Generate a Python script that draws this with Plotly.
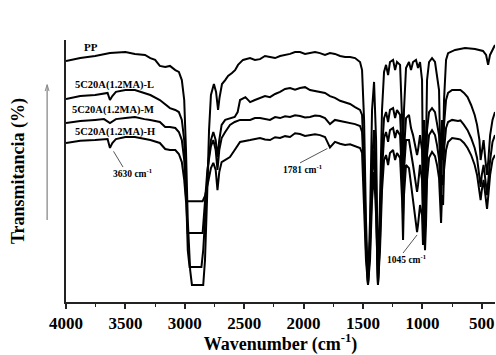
import plotly.graph_objects as go

# ---- FTIR spectra: wavenumber (cm-1) vs. transmittance (a.u., offset traces) ----

# PP (neat polypropylene)
wn_pp = [4000, 3880, 3755, 3630, 3500, 3420, 3335, 3290, 3250, 3210, 3165, 3125, 3080, 3050,
         3025, 3005, 2990, 2975, 2955, 2940, 2845, 2830, 2813, 2796, 2780, 2755, 2737, 2720,
         2708, 2687, 2660, 2636, 2603, 2577, 2552, 2510,
         2451, 2410, 2367, 2325, 2283, 2240, 2198, 2156, 2114, 2072, 2030, 1988, 1946, 1904,
         1862, 1820, 1778, 1736, 1693, 1651, 1609, 1567,
         1525, 1508, 1491, 1475, 1458, 1441, 1424, 1407, 1390,
         1382, 1374, 1357, 1340, 1323, 1306, 1289, 1273, 1247, 1230, 1214, 1188, 1171, 1163,
         1155, 1138, 1113, 1096, 1079, 1054, 1037, 1020, 1003, 995, 986, 978, 970, 961, 944,
         919, 894, 877, 860, 843, 835, 826, 818, 801, 784, 725, 641, 557, 490, 464, 447, 431,
         406, 389]
t_pp = [92.0, 93.1, 93.9, 95.0, 95.4, 94.7, 94.3, 93.1, 92.4, 90.1, 89.7, 90.1, 88.5, 87.8,
        84.7, 77.1, 58.0, 31.3, 12.2, 6.5, 6.5, 16.0, 38.9, 65.6, 79.0, 83.2, 80.2, 73.3,
        77.9, 83.2, 84.7, 86.3, 87.4, 88.5, 90.5, 92.4,
        93.1, 92.4, 92.7, 93.9, 93.5, 93.1, 93.9, 94.3, 94.7, 95.4, 95.4, 94.7, 95.0, 95.4,
        95.0, 94.3, 95.0, 94.7, 93.9, 93.5, 93.5, 93.1,
        91.6, 88.5, 69.5, 31.3, 6.5, 31.3, 73.3, 84.0, 61.8,
        23.7, 6.5, 38.9, 73.3, 87.8, 90.5, 86.6, 91.6, 92.4, 88.5, 91.6, 90.5, 69.5, 54.2,
        73.3, 89.3, 91.6, 88.5, 91.6, 92.4, 89.3, 91.6, 84.7, 46.6, 69.5, 38.9, 58.0, 84.7, 91.6,
        93.1, 91.6, 86.6, 80.9, 38.9, 69.5, 58.0, 77.1, 92.4, 95.0, 96.2, 96.9, 96.6, 95.8, 94.3, 90.5, 94.3,
        96.9, 98.1]

# mid-range wavenumbers (2450-1567) shared by the nanocomposite spectra
wn_mid = [2450, 2410, 2367, 2325, 2283, 2240, 2198, 2156, 2114, 2072, 2030, 1988, 1946, 1904,
          1862, 1820, 1778, 1736, 1693, 1651, 1609, 1567]

# fingerprint-region wavenumbers shared by the nanocomposite spectra
wn_fp = [1525, 1508, 1491, 1475, 1458, 1441, 1424, 1407, 1390, 1382, 1374, 1357, 1340, 1323,
         1306, 1289, 1273, 1247, 1230, 1214, 1188, 1171, 1163, 1155, 1138, 1113, 1096, 1079,
         1054, 1045, 1037, 1020, 1003, 995, 986, 978, 970, 961, 944, 919, 894, 877, 860, 843,
         835, 826, 818, 801, 784, 750, 700, 680, 650, 620, 590, 560, 540, 520, 510, 500, 485,
         470, 456, 445, 430, 410, 389]

# 5C20A(1.2MA)-L
wn_l_hi = [4000, 3880, 3755, 3680, 3650, 3630, 3610, 3580, 3500, 3420, 3340, 3290, 3210, 3165,
           3125, 3080, 3050, 3025, 3005, 2990, 2975, 2960, 2860, 2845, 2820, 2800, 2780, 2760,
           2740, 2725, 2710, 2690, 2660, 2620, 2580, 2555, 2535, 2490]
t_l_hi = [77.5, 78.6, 79.0, 79.4, 79.8, 77.1, 78.6, 80.2, 80.9, 80.9, 79.8, 79.0, 77.1, 75.6,
          74.0, 73.3, 72.5, 69.5, 61.8, 42.7, 19.8, 13.4, 13.4, 19.8, 38.9, 54.2, 61.8, 64.9,
          61.8, 55.3, 61.8, 67.6, 69.5, 70.2, 70.6, 72.5, 77.1, 78.2]
t_l_mid = [76.3, 77.1, 77.9, 78.6, 78.2, 79.4, 80.2, 81.3, 81.7, 81.0, 81.7, 82.0, 80.9, 80.5,
           80.2, 79.8, 78.6, 77.9, 76.8, 76.3, 75.6, 74.4]
t_l_fp = [73.3, 71.4,
          54.2, 23.7, 7.3, 23.7, 54.2, 65.6, 46.6, 19.8, 7.3, 27.5, 58.0, 70.2, 72.5, 68.7,
          73.3, 74.0, 70.2, 73.3, 71.4, 54.2, 42.7, 58.0, 70.2, 71.4, 66.4, 63.7, 58.0, 56.1,
          58.0, 63.7, 58.0, 37.0, 50.4, 35.1, 46.6, 65.6, 72.5, 74.0, 72.5, 68.7, 63.7, 46.6,
          58.0, 54.2, 67.6, 77.1, 79.8, 80.9, 80.9, 80.9, 79.8, 78.2, 75.2, 71.4, 67.6, 61.8,
          54.2, 58.0, 61.8, 54.2, 48.5, 54.2, 63.7, 69.5, 72.5]

# 5C20A(1.2MA)-M
wn_m_hi = [4000, 3880, 3755, 3680, 3630, 3580, 3500, 3420, 3340, 3290, 3210, 3165, 3125, 3080,
           3050, 3025, 3005, 2990, 2975, 2850, 2830, 2810, 2780, 2760, 2740, 2725, 2710, 2690,
           2660, 2620, 2580, 2535]
t_m_hi = [68.3, 69.1, 69.5, 69.8, 68.3, 69.8, 70.2, 70.6, 69.8, 69.5, 68.7, 66.8, 66.8, 66.4,
          64.9, 61.8, 54.2, 38.9, 26.3, 26.3, 38.9, 50.4, 59.5, 61.8, 58.0, 50.4, 58.0, 62.6,
          64.9, 67.6, 68.7, 69.5]
t_m_mid = [69.5, 70.2, 70.2, 69.8, 69.5, 70.6, 70.2, 70.9, 70.6, 71.3, 71.0, 70.4, 70.6, 71.2,
           71.0, 70.2, 67.9, 69.5, 69.1, 68.7, 68.3, 67.9]
t_m_fp = [67.2, 64.9,
          46.6, 19.8, 6.9, 19.8, 46.6, 58.0, 38.9, 16.0, 6.9, 23.7, 50.4, 62.6, 64.9, 61.1,
          65.6, 66.4, 62.6, 65.6, 63.7, 46.6, 33.2, 50.4, 61.8, 61.8, 56.1, 52.3, 44.7, 42.0,
          44.7, 52.3, 46.6, 29.4, 40.8, 27.5, 38.9, 56.1, 63.7, 65.6, 63.7, 59.9, 54.6, 38.9,
          48.5, 44.7, 58.0, 66.4, 68.7, 69.5, 69.1, 69.3, 67.6, 65.6, 62.6, 58.8, 55.0, 48.5,
          43.9, 48.5, 52.3, 46.6, 40.8, 46.6, 54.2, 61.1, 63.7]

# 5C20A(1.2MA)-H
wn_h_hi = [4000, 3880, 3755, 3680, 3650, 3630, 3610, 3580, 3500, 3420, 3340, 3290, 3210, 3165,
           3125, 3080, 3050, 3025, 3005, 2990, 2850, 2830, 2800, 2780, 2760, 2740, 2725, 2710,
           2690, 2660, 2620, 2580, 2535]
t_h_hi = [60.7, 61.5, 61.8, 62.2, 62.2, 58.8, 60.7, 62.2, 63.0, 63.0, 62.2, 61.8, 60.7, 58.4,
          58.0, 58.0, 56.5, 53.4, 46.6, 38.5, 38.5, 40.5, 46.6, 51.1, 53.1, 50.4, 42.7, 49.6,
          53.4, 54.2, 55.3, 58.0, 61.1]
t_h_mid = [61.8, 62.2, 62.6, 62.0, 61.8, 62.9, 62.6, 63.3, 63.0, 64.4, 64.1, 63.4, 63.7, 64.0,
           63.7, 63.0, 59.0, 61.1, 60.4, 59.9, 60.2, 59.5]
t_h_fp = [58.8, 56.9,
          38.9, 16.0, 6.5, 16.0, 38.9, 49.6, 33.2, 14.1, 6.5, 19.8, 42.7, 54.2, 56.1, 52.3,
          56.9, 58.0, 54.2, 56.9, 55.0, 38.9, 23.7, 40.8, 52.3, 51.1, 44.7, 38.9, 30.5, 26.7,
          29.4, 37.0, 33.2, 21.8, 29.4, 19.8, 29.4, 46.6, 55.0, 57.3, 55.7, 52.3, 47.3, 30.2,
          40.8, 37.0, 50.4, 58.0, 61.1, 62.6, 62.2, 62.0, 60.7, 58.8, 56.1, 52.3, 48.5, 42.7,
          38.9, 42.7, 46.6, 40.8, 35.5, 40.8, 48.5, 54.2, 56.1]

series_names = ["PP", "5C20A(1.2MA)-L", "5C20A(1.2MA)-M", "5C20A(1.2MA)-H"]
spectra = [
    (wn_pp, t_pp),
    (wn_l_hi + wn_mid + wn_fp, t_l_hi + t_l_mid + t_l_fp),
    (wn_m_hi + wn_mid + wn_fp, t_m_hi + t_m_mid + t_m_fp),
    (wn_h_hi + wn_mid + wn_fp, t_h_hi + t_h_mid + t_h_fp),
]
for (w, t) in spectra:
    assert len(w) == len(t), (len(w), len(t))

# label anchor (left edge) for each spectrum
label_wn = [3865, 3941, 3966, 3941]
label_t = [97.3, 82.8, 73.3, 64.9]

# marked bands: pointer from (tail) to (tip), label position
band_text = ["3630 cm<sup>-1</sup>", "1781 cm<sup>-1</sup>", "1045 cm<sup>-1</sup>"]
band_tip_wn = [3600, 1800, 1045]
band_tip_t = [57.5, 58.6, 25.6]
band_tail_wn = [3520, 2030, 1163]
band_tail_t = [51.5, 53.1, 18.7]
band_lab_wn = [3444, 2013, 1138]
band_lab_t = [49.2, 50.8, 16.4]

xtick_vals = [4000, 3500, 3000, 2500, 2000, 1500, 1000, 500]

SERIF = "Liberation Serif, Times New Roman, serif"

fig = go.Figure()
for name, (w, t) in zip(series_names, spectra):
    fig.add_trace(go.Scatter(x=w, y=t, mode="lines", name=name,
                             line=dict(color="black", width=2),
                             hoverinfo="skip", showlegend=False))

annotations = []
for name, lx, ly in zip(series_names, label_wn, label_t):
    annotations.append(dict(x=lx, y=ly, xref="x", yref="y", text=f"<b>{name}</b>",
                            showarrow=False, xanchor="left", yanchor="middle",
                            font=dict(family=SERIF, size=11 if name == "PP" else 10.5,
                                      color="black")))
shapes = []
for i in range(len(band_text)):
    shapes.append(dict(type="line", xref="x", yref="y",
                       x0=band_tail_wn[i], y0=band_tail_t[i],
                       x1=band_tip_wn[i], y1=band_tip_t[i],
                       line=dict(color="#555555", width=1)))
    annotations.append(dict(x=band_lab_wn[i], y=band_lab_t[i], xref="x", yref="y",
                            text=f"<b>{band_text[i]}</b>", showarrow=False,
                            xanchor="center", yanchor="middle",
                            font=dict(family=SERIF, size=9.5, color="black")))

# "increasing transmittance" guide arrow beside the y axis
shapes.append(dict(type="line", xref="paper", yref="paper", x0=-0.044, x1=-0.044,
                   y0=0.313, y1=0.825, line=dict(color="#8a8a8a", width=1.3)))
shapes.append(dict(type="path", xref="paper", yref="paper",
                   path="M -0.0485,0.805 L -0.044,0.83 L -0.0395,0.805",
                   line=dict(color="#8a8a8a", width=1)))

fig.update_layout(
    width=496, height=355,
    margin=dict(l=66, r=1, t=40, b=53),
    paper_bgcolor="white", plot_bgcolor="white",
    annotations=annotations,
    shapes=shapes,
    xaxis=dict(range=[4000, 389], tickvals=xtick_vals,
               ticktext=[f"<b>{v}</b>" for v in xtick_vals],
               ticks="outside", ticklen=5, tickwidth=1.5, tickcolor="#222",
               minor=dict(ticks="outside", ticklen=3, tickwidth=1.2, dtick=250, tick0=0,
                          tickcolor="#222"),
               showline=True, linecolor="#222", linewidth=2, showgrid=False, zeroline=False,
               tickfont=dict(family=SERIF, size=17, color="black"),
               title=dict(text="<b>Wavenumber (cm<sup>-1</sup>)</b>", standoff=7,
                          font=dict(family=SERIF, size=18, color="black"))),
    yaxis=dict(range=[0, 100], showline=True, linecolor="#222", linewidth=2,
               showticklabels=False, ticks="", showgrid=False, zeroline=False,
               title=dict(text="<b>Transmitancia (%)</b>", standoff=35,
                          font=dict(family=SERIF, size=18, color="black"))),
)

fig.write_html("out.html")
